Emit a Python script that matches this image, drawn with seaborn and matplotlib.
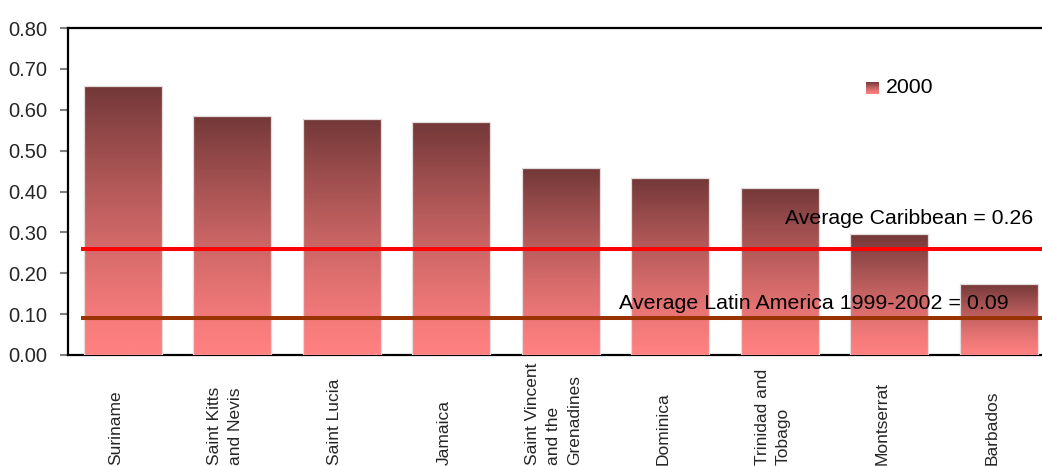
import numpy as np
import pandas as pd
import matplotlib
matplotlib.use("Agg")
import matplotlib.pyplot as plt
import matplotlib.transforms as mtransforms
from matplotlib.colors import LinearSegmentedColormap
import seaborn as sns

# ---- data -------------------------------------------------------------
countries = [
    "Suriname",
    "Saint Kitts\nand Nevis",
    "Saint Lucia",
    "Jamaica",
    "Saint Vincent\nand the\nGrenadines",
    "Dominica",
    "Trinidad and\nTobago",
    "Montserrat",
    "Barbados",
]
values_2000 = [0.658, 0.585, 0.577, 0.570, 0.457, 0.433, 0.409, 0.296, 0.174]
series_name = "2000"
avg_caribbean = 0.26
avg_latin_america = 0.09
y_ticks = [0.0, 0.1, 0.2, 0.3, 0.4, 0.5, 0.6, 0.7, 0.8]

df = pd.DataFrame({"country": countries, "value": values_2000})

# ---- style ------------------------------------------------------------
sns.set_theme(style="white")
plt.rcParams["font.family"] = ["Liberation Sans", "DejaVu Sans"]

W, H = 1042, 466
fig = plt.figure(figsize=(W / 100, H / 100), dpi=100)
ax = fig.add_axes([68 / W, 111 / H, 985.5 / W, 327 / H])

sns.barplot(data=df, x="country", y="value", ax=ax, width=0.71,
            color="#ff8080", saturation=1, errorbar=None, zorder=3)

# vertical gradient: salmon at the base, dark maroon at the top
cmap = LinearSegmentedColormap.from_list("maroon", ["#ff8080", "#733838"])
grad = np.linspace(0, 1, 256) ** 1.3
grad = grad.reshape(-1, 1)
for patch in ax.patches:
    x0, y0 = patch.get_x(), patch.get_y()
    w, h = patch.get_width(), patch.get_height()
    im = ax.imshow(grad, cmap=cmap, vmin=0, vmax=1, origin="lower",
                   extent=[x0, x0 + w, y0, y0 + h], aspect="auto",
                   zorder=3, interpolation="bilinear")
    im.set_clip_path(patch)
    patch.set_facecolor("none")
    patch.set_edgecolor("#e4dcdc")
    patch.set_linewidth(0.9)
    patch.set_zorder(3.5)

ax.set_xlim(-0.5, len(countries) - 0.5)
ax.set_ylim(0, 0.8)

# reference averages
ax.hlines(avg_caribbean, -0.381, len(countries), color="#ff0000",
          lw=2.9, zorder=5, clip_on=False)
ax.hlines(avg_latin_america, -0.381, len(countries), color="#993300",
          lw=2.9, zorder=5, clip_on=False)
ax.annotate(f"Average Caribbean = {avg_caribbean:.2f}",
            xy=(8.313, avg_caribbean), xytext=(0, 18),
            textcoords="offset points", ha="right", va="baseline",
            fontsize=15.3, color="black", zorder=6)
ax.annotate(f"Average Latin America 1999-2002 = {avg_latin_america:.2f}",
            xy=(4.532, avg_latin_america), xytext=(0, 6.5),
            textcoords="offset points", ha="left", va="baseline",
            fontsize=15.4, color="black", zorder=6)

# axes, ticks, spines
ax.set_yticks(y_ticks)
ax.set_yticklabels([f"{t:.2f}" for t in y_ticks])
ax.tick_params(axis="y", direction="out", length=6, width=1.5,
               color="#808080", pad=9, labelsize=14.5, left=True)
ax.set_xticks(range(len(countries)))
ax.set_xticklabels([])
ax.tick_params(axis="x", length=0)
ax.set_xlabel("")
ax.set_ylabel("")
for side in ("left", "top", "bottom"):
    ax.spines[side].set_visible(True)
    ax.spines[side].set_color("black")
    ax.spines[side].set_linewidth(1.6)
ax.spines["right"].set_visible(False)
ax.grid(False)

# rotated category labels, anchored at their start near the bottom
trans = mtransforms.blended_transform_factory(ax.transData, ax.transAxes)
for i, name in enumerate(countries):
    ax.text(i - 0.064, -0.3364, name, transform=trans, rotation=90,
            ha="center", va="bottom", multialignment="left",
            fontsize=12.5, linespacing=1.5, clip_on=False)

# legend: gradient swatch + series name
lax = fig.add_axes([866 / W, (H - 94) / H, 13 / W, 12 / H])
lax.imshow(grad, cmap=cmap, vmin=0, vmax=1, origin="lower",
           aspect="auto", interpolation="bilinear")
lax.set_axis_off()
fig.text(886 / W, 1 - 93 / H, series_name, ha="left", va="baseline",
         fontsize=15.3, color="black")

fig.savefig("out.png", dpi=100)
